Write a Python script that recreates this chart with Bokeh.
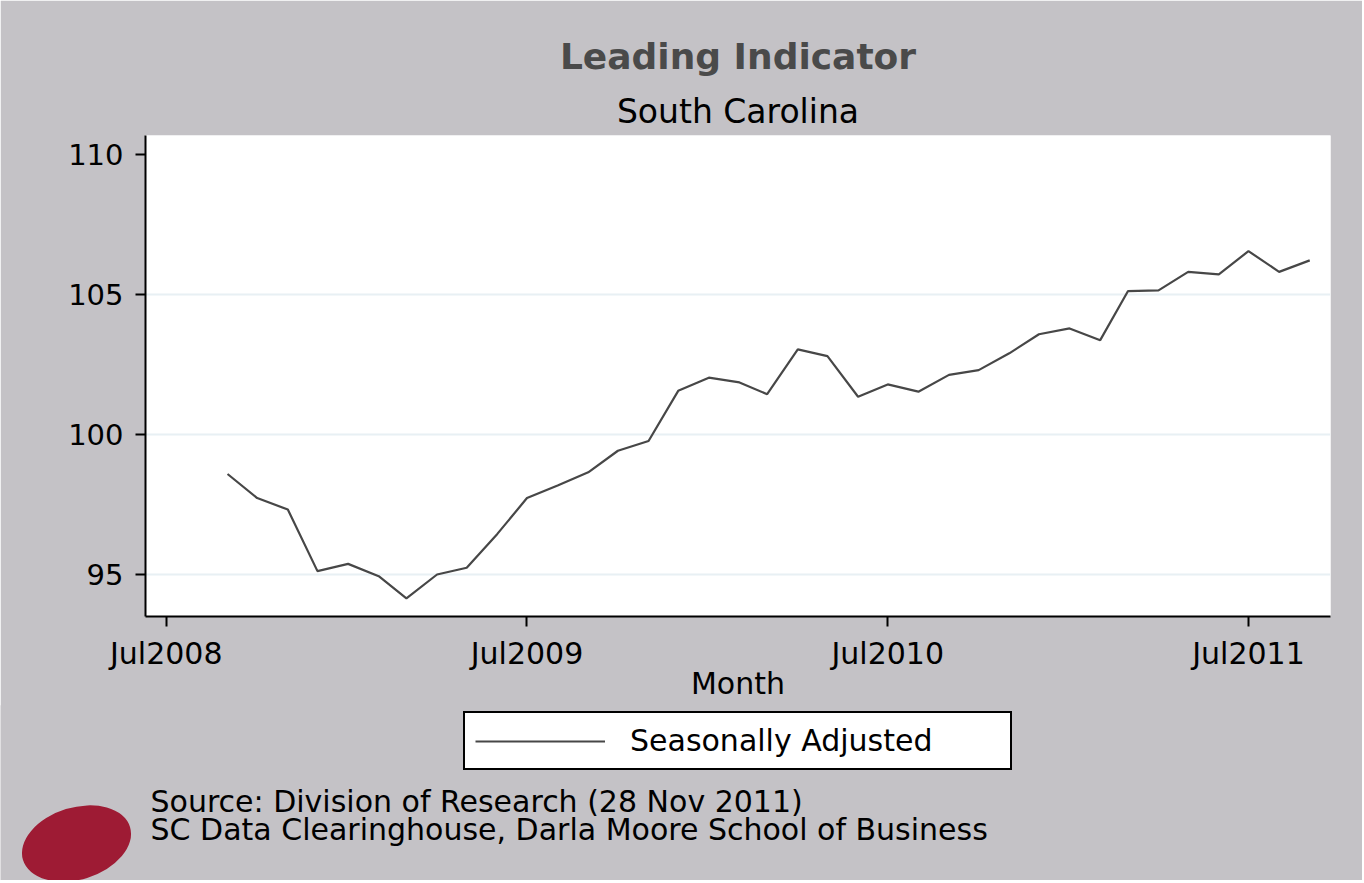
import numpy as np
from bokeh.plotting import figure
from bokeh.models import (Range1d, FixedTicker, DatetimeTickFormatter, Title,
                          Legend, LegendItem, Label)
from bokeh.embed import file_html
from bokeh.resources import INLINE

# ---------------- data ----------------
months = ["2008-09", "2008-10", "2008-11", "2008-12",
          "2009-01", "2009-02", "2009-03", "2009-04", "2009-05", "2009-06",
          "2009-07", "2009-08", "2009-09", "2009-10", "2009-11", "2009-12",
          "2010-01", "2010-02", "2010-03", "2010-04", "2010-05", "2010-06",
          "2010-07", "2010-08", "2010-09", "2010-10", "2010-11", "2010-12",
          "2011-01", "2011-02", "2011-03", "2011-04", "2011-05", "2011-06",
          "2011-07", "2011-08", "2011-09"]
seasonally_adjusted = [98.59, 97.73, 97.32, 95.12,
                       95.38, 94.94, 94.15, 95.00, 95.24, 96.45,
                       97.73, 98.18, 98.65, 99.42, 99.77, 101.56,
                       102.03, 101.86, 101.44, 103.04, 102.80, 101.35,
                       101.79, 101.53, 102.13, 102.30, 102.90, 103.58,
                       103.79, 103.37, 105.12, 105.15, 105.81, 105.72,
                       106.55, 105.81, 106.22]
x_tick_months = ["2008-07", "2009-07", "2010-07", "2011-07"]
y_ticks = [95, 100, 105, 110]
grid_levels = [95, 100, 105]

title_text = "Leading Indicator"
subtitle_text = "South Carolina"
x_label = "Month"
legend_label = "Seasonally Adjusted"
source_lines = ["Source: Division of Research (28 Nov 2011)",
                "SC Data Clearinghouse, Darla Moore School of Business"]


def ms(s):
    return float(np.datetime64(s).astype("datetime64[ms]").astype("int64"))


FONT = "DejaVu Sans"
BG = "#c4c2c6"
LINE_COLOR = "#474747"
TOTAL_W = 1362

x = [ms(m) for m in months]

# ---------------- main chart ----------------
p = figure(frame_width=1185, frame_height=481,
           x_axis_type="datetime",
           x_range=Range1d(ms("2008-06-10"), ms("2011-09-22")),
           y_range=Range1d(93.5, 110.68),
           min_border_left=145, min_border_right=32,
           min_border_top=135, min_border_bottom=90,
           output_backend="svg", toolbar_location=None)

p.background_fill_color = "white"
p.border_fill_color = BG
p.outline_line_color = None

r = p.line(x, seasonally_adjusted, line_color=LINE_COLOR, line_width=2.2)

for ax in p.axis:
    ax.axis_line_color = "black"
    ax.axis_line_width = 2
    ax.major_tick_line_color = "black"
    ax.major_tick_line_width = 2
    ax.major_tick_out = 10
    ax.major_tick_in = 0
    ax.minor_tick_line_color = None
    ax.major_label_text_font = FONT
    ax.major_label_text_color = "black"

p.yaxis.ticker = FixedTicker(ticks=y_ticks)
p.yaxis.major_label_standoff = 12
p.yaxis.major_label_text_font_size = "29px"

p.xaxis.ticker = FixedTicker(ticks=[ms(m) for m in x_tick_months])
p.xaxis.formatter = DatetimeTickFormatter(days="%b%Y", months="%b%Y", years="%b%Y")
p.xaxis.major_label_standoff = 9
p.xaxis.major_label_text_font_size = "30px"
p.xaxis.axis_label = x_label
p.xaxis.axis_label_text_font = FONT
p.xaxis.axis_label_text_font_size = "30px"
p.xaxis.axis_label_text_font_style = "normal"
p.xaxis.axis_label_text_color = "black"
p.xaxis.axis_label_standoff = -8

p.xgrid.visible = False
p.ygrid.ticker = FixedTicker(ticks=grid_levels)
p.ygrid.grid_line_color = "#e8f0f4"
p.ygrid.grid_line_width = 2

# titles (added nearest-first)
p.add_layout(Title(text=subtitle_text, align="center", standoff=10,
                   text_font=FONT, text_font_size="33px", text_font_style="normal",
                   text_color="black"), "above")
p.add_layout(Title(text=title_text, align="center", standoff=16,
                   text_font=FONT, text_font_size="36px", text_font_style="bold",
                   text_color="#4a4a4a"), "above")

# ---------------- footer band: legend + source note ----------------
FOOT_H = 175
f = figure(width=TOTAL_W, height=FOOT_H,
           x_range=Range1d(0, TOTAL_W), y_range=Range1d(0, FOOT_H),
           x_axis_location=None, y_axis_location=None,
           min_border=0, min_border_left=0, min_border_right=0,
           min_border_top=0, min_border_bottom=0,
           output_backend="svg", toolbar_location=None,
           styles={"margin-top": "-1px"})
f.background_fill_color = BG
f.border_fill_color = BG
f.outline_line_color = None
f.grid.visible = False

# key line: the same series, drawn through this band's scales (it falls outside
# the band's range, so only its legend sample is visible)
key = f.line(x, seasonally_adjusted, line_color=LINE_COLOR, line_width=2.2)

legend = Legend(items=[LegendItem(label=legend_label, renderers=[key])],
                location=(463, 110), orientation="vertical",
                padding=10, margin=0, spacing=0,
                glyph_width=130, glyph_height=20, label_standoff=25,
                label_width=370,
                label_text_font=FONT, label_text_font_size="30px",
                label_text_color="black",
                border_line_color="black", border_line_width=2, border_line_alpha=1.0,
                background_fill_color="white", background_fill_alpha=1.0)
f.add_layout(legend)

for i, line in enumerate(source_lines):
    f.add_layout(Label(x=150, y=79 - 28 * i, x_units="screen", y_units="screen",
                       text=line, text_align="left", text_baseline="alphabetic",
                       text_font=FONT, text_font_size="30px", text_color="black"))

# decorative logo (red globe) in the lower-left corner
f.ellipse(x=[76], y=[37], width=[112], height=[72], angle=0.3,
          fill_color="#9e1b34", line_color=None)

html = file_html([p, f], INLINE, title="Leading Indicator")
with open("out.html", "w") as fh:
    fh.write(html)
